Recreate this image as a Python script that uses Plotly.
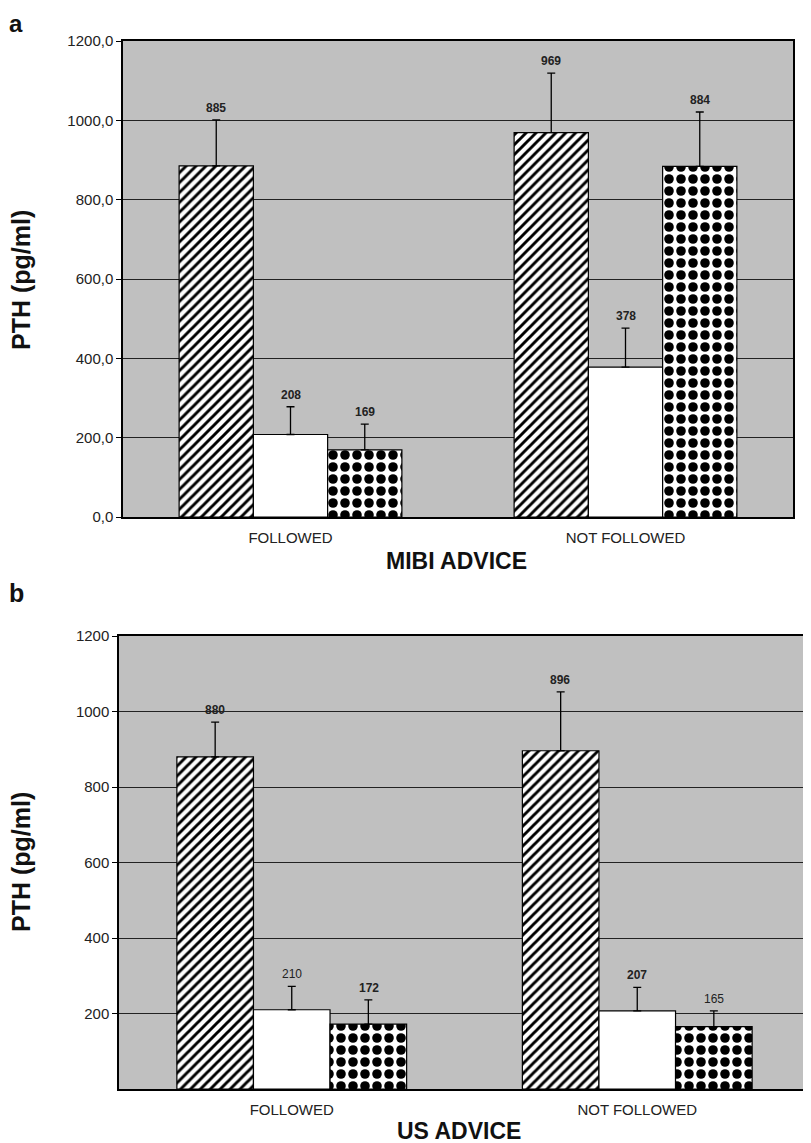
import plotly.graph_objects as go

# ---------------- data ----------------
categories = ["FOLLOWED", "NOT FOLLOWED"]

# panel a (MIBI advice)
a_hatched = [885, 969]
a_white = [208, 378]
a_checker = [169, 884]
a_hatched_err = [116, 150]
a_white_err = [70, 98]
a_checker_err = [65, 137]

# panel b (US advice)
b_hatched = [880, 896]
b_white = [210, 207]
b_checker = [172, 165]
b_hatched_err = [92, 156]
b_white_err = [62, 62]
b_checker_err = [64, 42]

a_ticks = [0, 200, 400, 600, 800, 1000, 1200]
a_ticktext = ["0,0", "200,0", "400,0", "600,0", "800,0", "1000,0", "1200,0"]
b_ticks = [200, 400, 600, 800, 1000, 1200]
b_ticktext = ["200", "400", "600", "800", "1000", "1200"]

# bold flags for value labels in panel b (some labels are plain in the source)
b_bold = {"hatched": [True, True], "white": [False, True], "checker": [True, False]}

# page body has an 8px margin; the figure is sized/positioned to compensate
OFF = 8
W, H = 811 - OFF, 1143 - OFF


def px(x):
    return (x - OFF) / W


def py(y):
    return 1 - (y - OFF) / H


FONT = "Liberation Sans, Arial, sans-serif"
NARROW = "Liberation Sans Narrow, Arial Narrow, Liberation Sans, Arial, sans-serif"

fig = go.Figure()

styles = {
    "hatched": dict(color="white", pattern=dict(shape="/", fgcolor="black", bgcolor="white",
                                                 size=7, solidity=0.42, fillmode="replace")),
    "white": dict(color="white"),
    "checker": dict(color="white", pattern=dict(shape=".", fgcolor="black", bgcolor="white",
                                                 size=12, solidity=0.5, fillmode="replace")),
}


def add_panel(vals, errs, xa, ya):
    for key, v, e in zip(["hatched", "white", "checker"], vals, errs):
        m = dict(styles[key])
        m["line"] = dict(color="black", width=1.2)
        fig.add_trace(go.Bar(
            x=categories, y=v, xaxis=xa, yaxis=ya, marker=m, showlegend=False,
            offsetgroup=key, name=key,
            error_y=dict(type="data", array=e, arrayminus=[0] * len(e), symmetric=False,
                         color="black", thickness=1.3, width=4),
        ))


add_panel([a_hatched, a_white, a_checker], [a_hatched_err, a_white_err, a_checker_err], "x", "y")
add_panel([b_hatched, b_white, b_checker], [b_hatched_err, b_white_err, b_checker_err], "x2", "y2")

annotations = []
offsets = [-1, 0, 1]


def add_labels(vals, errs, xa, ya, bold=None):
    keys = ["hatched", "white", "checker"]
    for k, (key, v, e) in enumerate(zip(keys, vals, errs)):
        for i in range(len(categories)):
            txt = str(v[i])
            isbold = True if bold is None else bold[key][i]
            if isbold:
                txt = "<b>" + txt + "</b>"
            annotations.append(dict(
                x=i + offsets[k] * 0.2225, y=v[i] + e[i], xref=xa, yref=ya,
                text=txt, showarrow=False, xanchor="center", yanchor="bottom", yshift=3,
                font=dict(family=NARROW, size=12, color="#222"),
            ))


add_labels([a_hatched, a_white, a_checker], [a_hatched_err, a_white_err, a_checker_err], "x", "y")
add_labels([b_hatched, b_white, b_checker], [b_hatched_err, b_white_err, b_checker_err], "x2", "y2", b_bold)


def title_ann(text, x, y, size, angle=0, yanchor="middle"):
    return dict(text=text, x=px(x), y=py(y), xref="paper", yref="paper", showarrow=False,
                xanchor="center", yanchor=yanchor, textangle=angle,
                font=dict(family=FONT, size=size, color="#111"))


annotations += [
    title_ann("<b>a</b>", 16, 8, 24, yanchor="top"),
    title_ann("<b>b</b>", 16, 593, 25),
    title_ann("<b>PTH (pg/ml)</b>", 21, 280, 25, -90),
    title_ann("<b>PTH (pg/ml)</b>", 21, 862, 25, -90),
    title_ann("<b>MIBI ADVICE</b>", 456, 561, 23),
    title_ann("<b>US ADVICE</b>", 459, 1131, 23),
]


def xaxis(dom, anchor):
    return dict(domain=dom, anchor=anchor, showline=True, mirror=True, linecolor="black",
                linewidth=1.5, ticks="", showgrid=False, automargin=False,
                ticklabelstandoff=6,
                tickfont=dict(family=FONT, size=15, color="#222"), fixedrange=True)


def yaxis(dom, anchor, tv, tt):
    return dict(domain=dom, anchor=anchor, range=[0, 1200], tickvals=tv, ticktext=tt,
                showline=True, mirror=True, linecolor="black", linewidth=1.5,
                ticks="outside", ticklen=5, tickcolor="black", showgrid=True,
                gridcolor="#222", gridwidth=1.2, zeroline=False, automargin=False,
                tickfont=dict(family=FONT, size=15, color="#222"))


fig.update_layout(
    width=W, height=H, margin=dict(l=0, r=0, t=0, b=0),
    paper_bgcolor="white", plot_bgcolor="#c0c0c0",
    barmode="group", bargap=0.335, bargroupgap=0,
    xaxis=xaxis([px(123), px(793)], "y"),
    yaxis=yaxis([py(517), py(41)], "x", a_ticks, a_ticktext),
    xaxis2=xaxis([px(119), px(810)], "y2"),
    yaxis2=yaxis([py(1089), py(636)], "x2", b_ticks, b_ticktext),
    annotations=annotations,
)

fig.write_html("out.html")
